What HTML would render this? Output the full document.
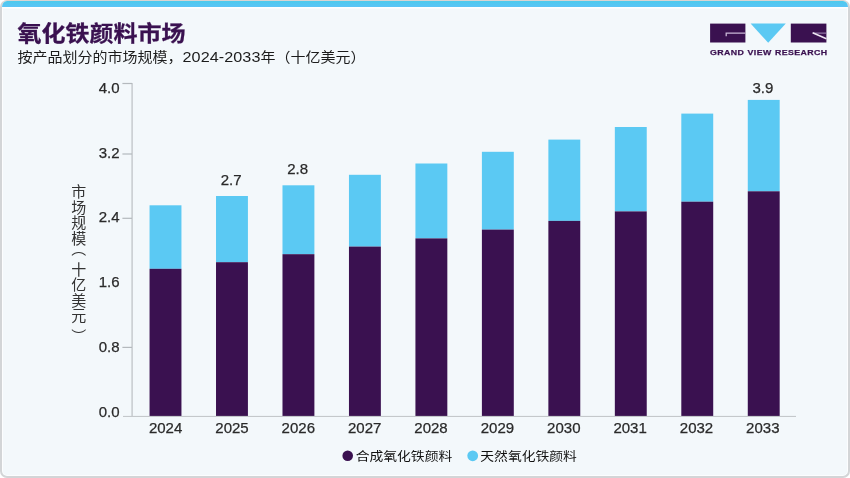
<!DOCTYPE html>
<html lang="zh-CN">
<head>
<meta charset="utf-8">
<title>氧化铁颜料市场</title>
<style>
html,body{margin:0;padding:0;background:#fff;}
body{width:850px;height:478px;overflow:hidden;position:relative;font-family:"Liberation Sans","Noto Sans CJK SC",sans-serif;color:#333;}
#card{position:absolute;left:0;top:0;width:850px;height:478px;box-sizing:border-box;border:2px solid #d3d5d7;border-top:1px solid #d9d4d2;border-radius:7px;background:#f3f8fb;overflow:hidden;box-shadow:inset 0 0 0 1px rgba(255,255,255,0.75);}
#bar{position:absolute;left:0;top:0;width:850px;height:6px;background:linear-gradient(#4ccaec,#5bc4f7);}
#bar2{position:absolute;left:0;top:6px;width:850px;height:2px;background:linear-gradient(#ffffff,#f8fbfd);}
svg{position:absolute;left:0;top:0;}
.t{position:absolute;white-space:nowrap;}
#title{left:17.5px;top:18.86px;font-size:24px;line-height:32px;font-weight:bold;color:#3a1150;transform-origin:0 0;transform:scaleY(0.9125);-webkit-text-stroke:0.3px #3a1150;}
#sub{left:17.5px;top:47.4px;font-size:15px;line-height:22px;color:#1c1c1c;transform-origin:0 0;transform:scaleY(0.925);}
#sub span{font-size:16.2px;letter-spacing:0.06px;line-height:10px;}
#ytitle{left:66.3px;top:183.5px;width:22px;height:150px;writing-mode:vertical-rl;font-size:15px;line-height:22px;color:#333;letter-spacing:0.5px;}
.yl{position:absolute;left:79.6px;width:40px;text-align:right;font-size:15px;line-height:16px;height:16px;color:#2a2a2a;-webkit-text-stroke:0.25px #2a2a2a;}
.xl{position:absolute;top:420px;width:60px;text-align:center;font-size:15px;line-height:16px;color:#2a2a2a;-webkit-text-stroke:0.25px #2a2a2a;}
.vl{position:absolute;width:60px;text-align:center;font-size:15px;line-height:16px;color:#2a2a2a;-webkit-text-stroke:0.25px #2a2a2a;}
.lg{position:absolute;top:447.6px;font-size:13.8px;line-height:20px;color:#111;white-space:nowrap;transform-origin:0 0;transform:scaleY(0.9);}
#brand{left:709.8px;top:48.2px;font-size:8px;line-height:10px;font-weight:bold;color:#3a1150;letter-spacing:0.38px;word-spacing:0.3px;transform-origin:0 0;transform:scaleX(1.1);-webkit-text-stroke:0.25px #3a1150;}
</style>
</head>
<body>
<div id="card"><div id="bar"></div><div id="bar2"></div></div>
<svg width="850" height="478" viewBox="0 0 850 478">
<rect x="149.55" y="205.3" width="31.9" height="63.50" fill="#5bc9f3"/>
<rect x="149.55" y="268.8" width="31.9" height="147.20" fill="#3a1150"/>
<rect x="216.02" y="196.0" width="31.9" height="66.20" fill="#5bc9f3"/>
<rect x="216.02" y="262.2" width="31.9" height="153.80" fill="#3a1150"/>
<rect x="282.49" y="185.3" width="31.9" height="68.90" fill="#5bc9f3"/>
<rect x="282.49" y="254.2" width="31.9" height="161.80" fill="#3a1150"/>
<rect x="348.96" y="174.8" width="31.9" height="71.80" fill="#5bc9f3"/>
<rect x="348.96" y="246.6" width="31.9" height="169.40" fill="#3a1150"/>
<rect x="415.43" y="163.5" width="31.9" height="74.90" fill="#5bc9f3"/>
<rect x="415.43" y="238.4" width="31.9" height="177.60" fill="#3a1150"/>
<rect x="481.9" y="151.8" width="31.9" height="77.80" fill="#5bc9f3"/>
<rect x="481.9" y="229.6" width="31.9" height="186.40" fill="#3a1150"/>
<rect x="548.37" y="139.6" width="31.9" height="81.30" fill="#5bc9f3"/>
<rect x="548.37" y="220.9" width="31.9" height="195.10" fill="#3a1150"/>
<rect x="614.84" y="127.0" width="31.9" height="84.40" fill="#5bc9f3"/>
<rect x="614.84" y="211.4" width="31.9" height="204.60" fill="#3a1150"/>
<rect x="681.31" y="113.6" width="31.9" height="88.10" fill="#5bc9f3"/>
<rect x="681.31" y="201.7" width="31.9" height="214.30" fill="#3a1150"/>
<rect x="747.78" y="99.9" width="31.9" height="91.40" fill="#5bc9f3"/>
<rect x="747.78" y="191.3" width="31.9" height="224.70" fill="#3a1150"/>
<rect x="131.4" y="83" width="1.4" height="334" fill="#c4c8cb"/>
<rect x="123" y="415.9" width="673" height="1.1" fill="#c4c8cb"/>
<rect x="122.4" y="82.90" width="9.6" height="1.2" fill="#b4b9bd"/>
<rect x="122.4" y="153.40" width="9.6" height="1.2" fill="#b4b9bd"/>
<rect x="122.4" y="217.70" width="9.6" height="1.2" fill="#b4b9bd"/>
<rect x="122.4" y="346.80" width="9.6" height="1.2" fill="#b4b9bd"/>
<rect x="710.1" y="23.6" width="35.3" height="18.9" fill="#3a1150"/>
<path d="M745.4 33.2H726.2V36.3" fill="none" stroke="#c9b7d6" stroke-width="1.3"/>
<polygon points="750.6,23.6 785.8,23.6 768.2,42.8" fill="#5bc9f3"/>
<rect x="790.8" y="23.6" width="35.6" height="18.9" fill="#3a1150"/>
<path d="M826.4 33.1H813" fill="none" stroke="#a78fba" stroke-width="1"/>
<path d="M812.6 32.7L826.4 38.7" fill="none" stroke="#eee6f3" stroke-width="1.5"/>
<circle cx="347.7" cy="455.8" r="5.3" fill="#3a1150"/>
<circle cx="472.7" cy="455.8" r="5.4" fill="#5bc9f3"/>
</svg>
<div class="t" id="title">氧化铁颜料市场</div>
<div class="t" id="sub">按产品划分的市场规模，<span>2024-2033</span>年（十亿美元）</div>
<div class="t" id="ytitle">市场规模<span style="position:relative;top:-5px">（</span>十亿美元<span style="position:relative;top:6px">）</span></div>
<div class="yl" style="top:80.0px">4.0</div>
<div class="yl" style="top:145.0px">3.2</div>
<div class="yl" style="top:209.0px">2.4</div>
<div class="yl" style="top:274.0px">1.6</div>
<div class="yl" style="top:339.0px">0.8</div>
<div class="yl" style="top:404.0px">0.0</div>
<div class="xl" style="left:135.6px">2024</div>
<div class="xl" style="left:202.0px">2025</div>
<div class="xl" style="left:268.3px">2026</div>
<div class="xl" style="left:334.7px">2027</div>
<div class="xl" style="left:401.0px">2028</div>
<div class="xl" style="left:467.4px">2029</div>
<div class="xl" style="left:533.8px">2030</div>
<div class="xl" style="left:600.1px">2031</div>
<div class="xl" style="left:666.5px">2032</div>
<div class="xl" style="left:732.8px">2033</div>
<div class="vl" style="left:201.2px;top:172.2px">2.7</div>
<div class="vl" style="left:267.6px;top:161.1px">2.8</div>
<div class="vl" style="left:732.9px;top:80.3px">3.9</div>
<div class="lg" style="left:355.7px">合成氧化铁颜料</div>
<div class="lg" style="left:480.3px">天然氧化铁颜料</div>
<div class="t" id="brand">GRAND VIEW RESEARCH</div>
</body>
</html>
